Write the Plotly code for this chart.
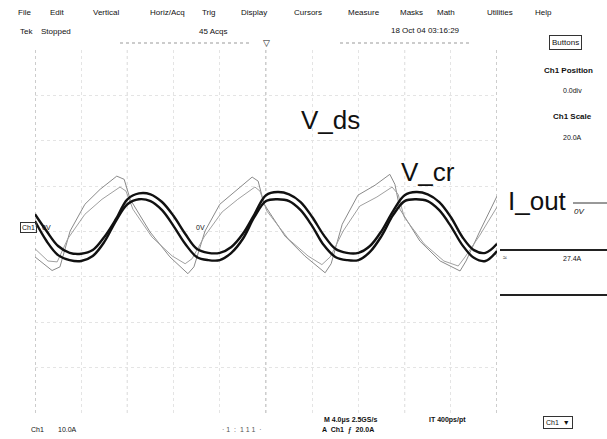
import plotly.graph_objects as go

# ---- data (time in divisions, amplitude in divisions) ----
t_thick = [0, 0.25, 0.5, 0.75, 1, 1.25, 1.5, 1.75, 2, 2.25, 2.5, 2.75, 3, 3.25, 3.5, 3.75,
           4, 4.25, 4.5, 4.75, 5, 5.25, 5.5, 5.75, 6, 6.25, 6.5, 6.75, 7, 7.25, 7.5, 7.75,
           8, 8.25, 8.5, 8.75, 9, 9.25, 9.5, 9.75, 10]
v_ds = [0.38, 0.01, -0.32, -0.47, -0.49, -0.41, -0.12, 0.27, 0.71, 0.84, 0.82, 0.65, 0.34,
        -0.05, -0.38, -0.47, -0.47, -0.34, -0.05, 0.38, 0.80, 0.87, 0.82, 0.65, 0.32, -0.08,
        -0.38, -0.47, -0.47, -0.32, 0.01, 0.45, 0.80, 0.87, 0.82, 0.65, 0.32, -0.12, -0.41,
        -0.47, -0.27]
v_cr = [0.23, -0.21, -0.52, -0.63, -0.65, -0.54, -0.23, 0.23, 0.60, 0.71, 0.67, 0.47, 0.12,
        -0.27, -0.56, -0.63, -0.63, -0.47, -0.16, 0.32, 0.67, 0.71, 0.67, 0.47, 0.12, -0.30,
        -0.56, -0.63, -0.63, -0.45, -0.10, 0.36, 0.67, 0.71, 0.67, 0.47, 0.12, -0.30, -0.58,
        -0.65, -0.43]

t_out1 = [0, 0.37, 0.54, 0.76, 1.08, 1.41, 1.77, 1.93, 2.06, 2.49, 2.92, 3.31, 3.44, 3.68,
          4.00, 4.33, 4.70, 4.83, 4.96, 5.41, 5.84, 6.28, 6.41, 6.65, 6.99, 7.36, 7.68, 7.79,
          7.90, 8.33, 8.77, 9.20, 9.33, 9.63, 10]
i_out1 = [-0.56, -0.86, -0.78, 0.01, 0.60, 0.93, 1.22, 1.15, 0.71, -0.01, -0.56, -0.93,
          -0.78, 0.01, 0.60, 0.89, 1.20, 1.11, 0.60, -0.10, -0.54, -0.91, -0.71, 0.16, 0.80,
          1.02, 1.26, 1.04, 0.49, -0.21, -0.65, -0.87, -0.65, 0.01, 0.78]

t_out2 = [0, 0.28, 0.48, 0.71, 1.08, 1.45, 1.84, 1.97, 2.12, 2.53, 2.97, 3.25, 3.40, 3.66,
          4.05, 4.39, 4.76, 4.87, 5.02, 5.48, 5.91, 6.21, 6.39, 6.67, 7.03, 7.40, 7.73, 7.86,
          7.99, 8.42, 8.85, 9.16, 9.31, 9.63, 10]
i_out2 = [-0.38, -0.65, -0.67, -0.16, 0.38, 0.71, 0.98, 0.89, 0.49, -0.12, -0.54, -0.71,
          -0.60, -0.12, 0.43, 0.71, 0.98, 0.89, 0.45, -0.16, -0.54, -0.73, -0.56, 0.01, 0.56,
          0.76, 0.98, 0.82, 0.32, -0.27, -0.65, -0.76, -0.56, -0.08, 0.54]

menu_items = ["File", "Edit", "Vertical", "Horiz/Acq", "Trig", "Display", "Cursors",
              "Measure", "Masks", "Math", "Utilities", "Help"]
menu_x = [24, 57, 106, 167, 208, 254, 308, 364, 411, 446, 500, 543]

# ---- figure ----
W, H = 607, 439
L, R, T, B = 35, 110, 50, 26
PW, PH = W - L - R, H - T - B


def px(x):
    return (x - L) / PW


def py(y):
    return (H - B - y) / PH


fig = go.Figure()
fig.add_trace(go.Scatter(x=t_out1, y=i_out1, mode="lines",
                         line=dict(color="#8a8a8a", width=1)))
fig.add_trace(go.Scatter(x=t_out2, y=i_out2, mode="lines",
                         line=dict(color="#a0a0a0", width=1)))
fig.add_trace(go.Scatter(x=t_thick, y=v_cr, mode="lines",
                         line=dict(color="#111111", width=2.4, shape="spline")))
fig.add_trace(go.Scatter(x=t_thick, y=v_ds, mode="lines",
                         line=dict(color="#111111", width=2.4, shape="spline")))

font = "Liberation Sans, Arial, sans-serif"
narrow = "Liberation Sans Narrow, Liberation Sans, Arial, sans-serif"
ann = []


def txt(x, y, s, size=8, bold=False, fam=font, anchor="center", color="#111"):
    ann.append(dict(x=px(x), y=py(y), xref="paper", yref="paper", text=("<b>%s</b>" % s) if bold else s,
                    showarrow=False, xanchor=anchor, yanchor="middle",
                    font=dict(family=fam, size=size, color=color)))


for m, x in zip(menu_items, menu_x):
    txt(x, 13, m, size=8)
txt(26, 32, "Tek", size=8)
txt(56, 32, "Stopped", size=8)
txt(213, 32, "45 Acqs", size=8)
txt(425, 30, "18 Oct 04 03:16:29", size=8)
ann.append(dict(x=px(582), y=py(35), xref="paper", yref="paper", text="Buttons",
                showarrow=False, font=dict(family=font, size=8, color="#111"),
                bordercolor="#333", borderwidth=1, borderpad=2))
txt(266, 43, "▽", size=9)

txt(330, 120, "V_ds", size=26, fam=narrow)
txt(428, 172, "V_cr", size=26, fam=narrow)
txt(537, 201, "I_out", size=26, fam=narrow)
txt(579, 212, "<i>0V</i>", size=8)

txt(568, 70, "Ch1 Position", size=8, bold=True)
txt(572, 90, "0.0div", size=7)
txt(572, 117, "Ch1 Scale", size=8, bold=True)
txt(572, 137, "20.0A", size=7)
txt(505, 257, "≈", size=7)
txt(572, 258, "27.4A", size=7)

ann.append(dict(x=px(20), y=py(228), xref="paper", yref="paper", text="Ch1",
                showarrow=False, font=dict(family=font, size=7, color="#111"),
                bordercolor="#333", borderwidth=1, borderpad=1))
txt(46, 228, "0V", size=7)
txt(200, 227, "0V", size=7)

txt(37, 429, "Ch1", size=7)
txt(67, 429, "10.0A", size=7)
txt(242, 430, "· 1  :  1 1 1  ·", size=7, color="#555")
txt(350, 420, "M 4.0μs 2.5GS/s", size=7, bold=True)
txt(348, 430, "A  Ch1  ƒ  20.0A", size=7, bold=True)
txt(447, 420, "IT 400ps/pt", size=7, bold=True)
ann.append(dict(x=px(573), y=py(429), xref="paper", yref="paper", text="Ch1  ▼",
                showarrow=False, font=dict(family=font, size=7, color="#111"),
                bordercolor="#333", borderwidth=1, borderpad=2))

shapes = [
    dict(type="line", xref="paper", yref="paper", x0=px(500), x1=px(607), y0=py(250), y1=py(250),
         line=dict(color="#222", width=2)),
    dict(type="line", xref="paper", yref="paper", x0=px(500), x1=px(607), y0=py(295), y1=py(295),
         line=dict(color="#222", width=2)),
    dict(type="line", xref="paper", yref="paper", x0=px(573), x1=px(607), y0=py(203), y1=py(203),
         line=dict(color="#333", width=1)),
    dict(type="line", xref="paper", yref="paper", x0=px(340), x1=px(470), y0=py(43), y1=py(43),
         line=dict(color="#999", width=1, dash="dot")),
    dict(type="line", xref="paper", yref="paper", x0=px(120), x1=px(250), y0=py(43), y1=py(43),
         line=dict(color="#999", width=1, dash="dot")),
]
for xv in [0, 2, 5, 8, 10]:
    shapes.append(dict(type="line", xref="x", yref="paper", x0=xv, x1=xv, y0=0, y1=1,
                       line=dict(color="#9a9a9a", width=1, dash="dot"), layer="below"))

fig.update_layout(
    width=W, height=H, margin=dict(l=L, r=R, t=T, b=B),
    paper_bgcolor="white", plot_bgcolor="white", showlegend=False,
    annotations=ann, shapes=shapes,
    xaxis=dict(range=[0, 10], dtick=1, showticklabels=False, ticks="",
               showgrid=True, gridcolor="#e4e4e4", griddash="dot", gridwidth=1,
               zeroline=False, showline=False, fixedrange=True),
    yaxis=dict(range=[-4, 4], dtick=1, showticklabels=False, ticks="",
               showgrid=True, gridcolor="#e4e4e4", griddash="dot", gridwidth=1,
               zeroline=False, showline=False, fixedrange=True),
)
fig.write_html("out.html", config={"displayModeBar": False},
               post_script="document.body.style.margin='0';document.body.style.padding='0';")
